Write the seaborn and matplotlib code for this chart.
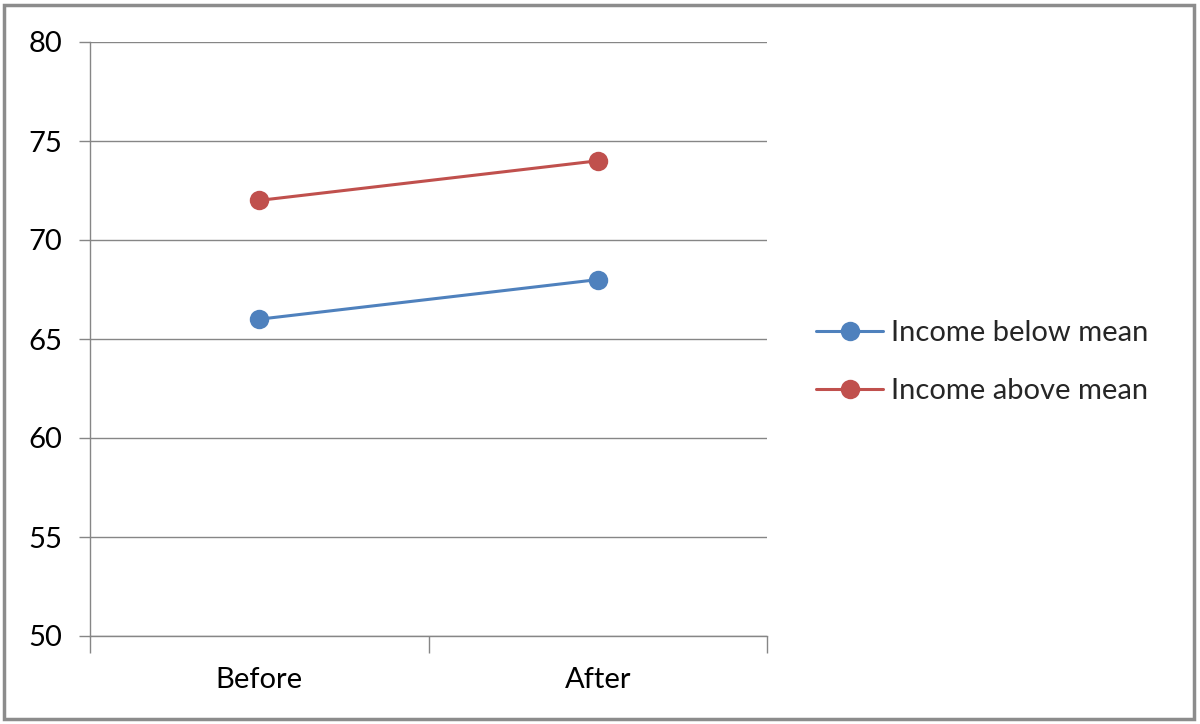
import matplotlib
matplotlib.use("Agg")
import matplotlib.pyplot as plt
import seaborn as sns
import pandas as pd
from matplotlib.lines import Line2D
from matplotlib.patches import Rectangle

categories = ["Before", "After"]
below_mean = [66, 68]
above_mean = [72, 74]
series_names = ["Income below mean", "Income above mean"]
colors = ["#4F81BD", "#C0504D"]
y_ticks = [50, 55, 60, 65, 70, 75, 80]

df = pd.DataFrame({
    "x": list(range(len(categories))) * 2,
    "value": below_mean + above_mean,
    "series": [series_names[0]] * len(categories) + [series_names[1]] * len(categories),
})

sns.set_style("white")
plt.rcParams["font.family"] = ["Lato", "DejaVu Sans"]

fs = 21
fig = plt.figure(figsize=(12, 7.24), dpi=100)
ax = fig.add_axes([0.075, 1 - 636 / 724, (767 - 90) / 1200, (636 - 42) / 724])

sns.lineplot(data=df, x="x", y="value", hue="series", palette=colors,
             marker="o", markersize=14, markeredgewidth=0, linewidth=2.2,
             ax=ax, legend=False, zorder=3)

grid_c = "#868686"
ax.set_xlim(-0.5, len(categories) - 0.5)
ax.set_ylim(50, 80)
ax.set_yticks(y_ticks)
ax.set_yticklabels([str(t) for t in y_ticks])
for t in y_ticks:
    ax.axhline(t, color=grid_c, linewidth=1, zorder=1)
ax.set_xticks(range(len(categories)))
ax.set_xticklabels(categories)
ax.set_xticks([-0.5, 0.5, 1.5], minor=True)
ax.tick_params(axis="x", which="major", length=0, pad=22, labelsize=fs, labelcolor="#000000")
ax.tick_params(axis="x", which="minor", length=12, width=1, color=grid_c, direction="out", bottom=True)
ax.tick_params(axis="y", length=8, width=1, color=grid_c, direction="out", left=True, pad=12,
               labelsize=fs, labelcolor="#000000")
ax.set_xlabel("")
ax.set_ylabel("")
for s in ["top", "right"]:
    ax.spines[s].set_visible(False)
for s in ["left", "bottom"]:
    ax.spines[s].set_color(grid_c)
    ax.spines[s].set_linewidth(1)

handles = [Line2D([0], [0], color=c, linewidth=2.2, marker="o", markersize=14, markeredgewidth=0)
           for c in colors]
fig.legend(handles, series_names, loc="center left", bbox_to_anchor=(816 / 1200, 0.5),
           frameon=False, fontsize=fs, handlelength=2.3, handletextpad=0.28,
           labelspacing=1.1, borderpad=0, borderaxespad=0)

fig.patches.append(Rectangle((4 / 1200, 5 / 724), 1190 / 1200, 714 / 724, transform=fig.transFigure,
                             fill=False, edgecolor="#8c8c8c", linewidth=2.5))

fig.savefig("out.png", dpi=100)
